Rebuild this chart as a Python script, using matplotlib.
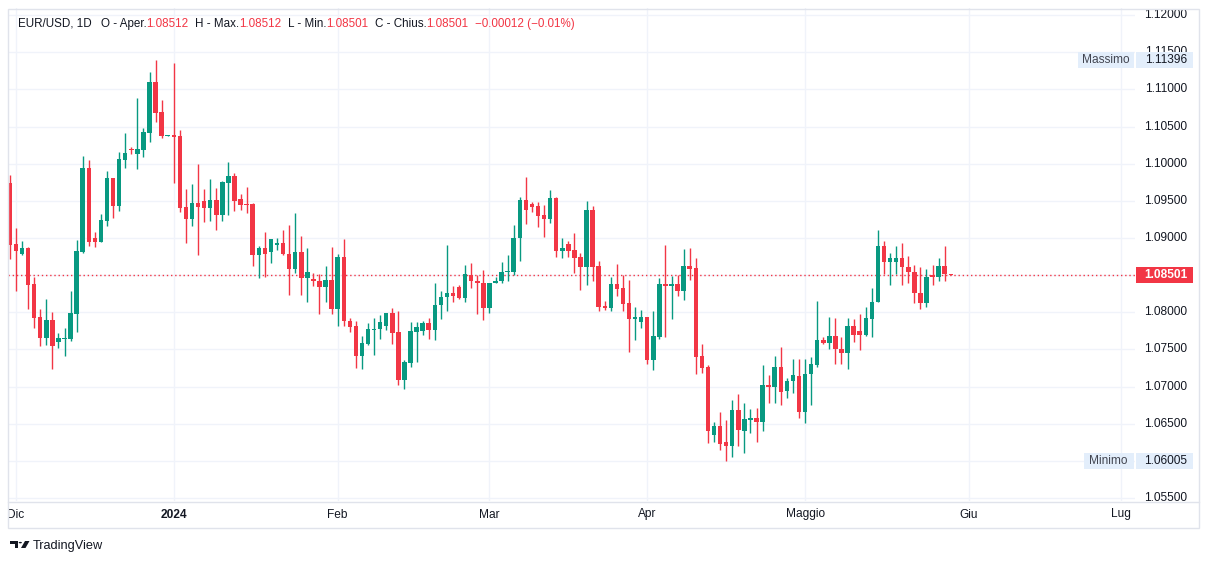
import matplotlib
matplotlib.use("Agg")
import matplotlib.pyplot as plt
import matplotlib.transforms as mtransforms
from matplotlib.patches import Rectangle, Polygon, Circle
import numpy as np

# ---------------- data ----------------
opens = [1.09740, 1.08919, 1.08785, 1.08866, 1.08381, 1.07937, 1.07659, 1.07897, 1.07606, 1.07646,
         1.07646, 1.07982, 1.08816, 1.09942, 1.09000, 1.08951, 1.09233, 1.09807, 1.09435, 1.10054,
         1.10188, 1.10135, 1.10188, 1.10417, 1.11099, 1.10695, 1.10377, 1.10381, 1.10372, 1.09417,
         1.09256, 1.09471, 1.09498, 1.09408, 1.09511, 1.09314, 1.09744, 1.09834, 1.09525, 1.09457,
         1.09457, 1.08776, 1.08867, 1.08805, 1.08912, 1.08934, 1.08787, 1.08577, 1.08814, 1.08457,
         1.08452, 1.08426, 1.08336, 1.08439, 1.08042, 1.08747, 1.07877, 1.07810, 1.07413, 1.07574,
         1.07757, 1.07770, 1.07815, 1.07984, 1.07730, 1.07092, 1.07320, 1.07734, 1.07748, 1.07855,
         1.07761, 1.08096, 1.08203, 1.08265, 1.08345, 1.08189, 1.08506, 1.08426, 1.08399, 1.08055,
         1.08390, 1.08417, 1.08537, 1.08546, 1.08995, 1.09507, 1.09458, 1.09427, 1.09306, 1.09256,
         1.09534, 1.08831, 1.08916, 1.08835, 1.08741, 1.08611, 1.09373, 1.08620, 1.08087, 1.08060,
         1.08378, 1.08329, 1.08123, 1.07912, 1.07872, 1.07935, 1.07361, 1.07670, 1.08378, 1.08360,
         1.08378, 1.08289, 1.08620, 1.08593, 1.07411, 1.07263, 1.06355, 1.06463, 1.06248, 1.06207,
         1.06688, 1.06409, 1.06557, 1.06580, 1.06530, 1.07024, 1.06993, 1.07267, 1.06935, 1.07069,
         1.07146, 1.06652, 1.07164, 1.07294, 1.07631, 1.07586, 1.07684, 1.07507, 1.07458, 1.07818,
         1.07750, 1.07701, 1.07916, 1.08132, 1.08897, 1.08672, 1.08681, 1.08735, 1.08613, 1.08546,
         1.08263, 1.08119, 1.08505, 1.08469, 1.08627, 1.08512]
highs = [1.09848, 1.09130, 1.08960, 1.08879, 1.08475, 1.08045, 1.08179, 1.08005, 1.07722, 1.07789,
         1.08287, 1.08973, 1.10103, 1.10049, 1.09081, 1.09323, 1.09901, 1.09807, 1.10157, 1.10413,
         1.10220, 1.10883, 1.10480, 1.11233, 1.11396, 1.10856, 1.10390, 1.11354, 1.10453, 1.09664,
         1.09726, 1.09996, 1.09664, 1.09794, 1.09673, 1.09767, 1.10022, 1.09874, 1.09596, 1.09691,
         1.09471, 1.08892, 1.09081, 1.08990, 1.09001, 1.09108, 1.09179, 1.09335, 1.09028, 1.08867,
         1.08533, 1.08519, 1.08626, 1.08881, 1.08782, 1.08988, 1.07917, 1.07877, 1.07676, 1.07855,
         1.07917, 1.07966, 1.07997, 1.08064, 1.08024, 1.07355, 1.07864, 1.07864, 1.07877, 1.07917,
         1.08399, 1.08292, 1.08907, 1.08350, 1.08372, 1.08640, 1.08666, 1.08506, 1.08573, 1.08399,
         1.08479, 1.08680, 1.08773, 1.09175, 1.09552, 1.09821, 1.09485, 1.09480, 1.09444, 1.09642,
         1.09552, 1.08996, 1.08961, 1.09064, 1.08804, 1.09494, 1.09427, 1.08692, 1.08154, 1.08477,
         1.08647, 1.08499, 1.08432, 1.08074, 1.08033, 1.07935, 1.08015, 1.08463, 1.08902, 1.08495,
         1.08499, 1.08849, 1.08862, 1.08728, 1.07572, 1.07290, 1.06526, 1.06661, 1.06544, 1.06822,
         1.06903, 1.06782, 1.06701, 1.06715, 1.07285, 1.07159, 1.07415, 1.07536, 1.07110, 1.07366,
         1.07366, 1.07366, 1.07393, 1.08147, 1.07671, 1.07940, 1.07927, 1.07665, 1.07921, 1.07916,
         1.07979, 1.08074, 1.08330, 1.09112, 1.08964, 1.08793, 1.08897, 1.08937, 1.08762, 1.08631,
         1.08613, 1.08586, 1.08640, 1.08735, 1.08897, 1.08512]
lows = [1.08718, 1.08292, 1.08771, 1.08045, 1.07794, 1.07552, 1.07565, 1.07242, 1.07525, 1.07417,
        1.07619, 1.07740, 1.08803, 1.08897, 1.08883, 1.08951, 1.09166, 1.09274, 1.09363, 1.09946,
        1.10130, 1.09933, 1.10094, 1.10296, 1.10565, 1.10350, 1.10372, 1.09744, 1.09350, 1.08937,
        1.09166, 1.08776, 1.09220, 1.09229, 1.09112, 1.09233, 1.09314, 1.09368, 1.09381, 1.09341,
        1.08628, 1.08457, 1.08479, 1.08666, 1.08845, 1.08770, 1.08229, 1.08524, 1.08229, 1.08145,
        1.08354, 1.07975, 1.08136, 1.07975, 1.07815, 1.07815, 1.07730, 1.07248, 1.07239, 1.07565,
        1.07427, 1.07641, 1.07761, 1.07574, 1.07025, 1.06972, 1.07266, 1.07333, 1.07694, 1.07641,
        1.07627, 1.07904, 1.08024, 1.08136, 1.08176, 1.08136, 1.08323, 1.07975, 1.07895, 1.07989,
        1.08390, 1.08390, 1.08417, 1.08506, 1.08692, 1.09194, 1.09350, 1.09149, 1.09014, 1.09198,
        1.08746, 1.08732, 1.08746, 1.08531, 1.08302, 1.08369, 1.08423, 1.08020, 1.08033, 1.08020,
        1.08221, 1.08020, 1.07469, 1.07630, 1.07791, 1.07308, 1.07227, 1.07644, 1.07670, 1.07912,
        1.08221, 1.08168, 1.08432, 1.07173, 1.07187, 1.06239, 1.06261, 1.06140, 1.06005, 1.06059,
        1.06207, 1.06113, 1.06382, 1.06248, 1.06396, 1.06773, 1.06786, 1.06746, 1.06840, 1.06908,
        1.06571, 1.06508, 1.06746, 1.07258, 1.07572, 1.07509, 1.07298, 1.07305, 1.07242, 1.07606,
        1.07498, 1.07678, 1.07674, 1.08132, 1.08519, 1.08362, 1.08519, 1.08362, 1.08398, 1.08119,
        1.08038, 1.08065, 1.08366, 1.08416, 1.08425, 1.08501]
closes = [1.08910, 1.08830, 1.08866, 1.08368, 1.07928, 1.07659, 1.07897, 1.07552, 1.07655, 1.07655,
          1.07991, 1.08825, 1.09942, 1.08951, 1.08951, 1.09242, 1.09807, 1.09435, 1.10063, 1.10143,
          1.10179, 1.10197, 1.10426, 1.11099, 1.10686, 1.10372, 1.10386, 1.10363, 1.09408, 1.09256,
          1.09471, 1.09417, 1.09408, 1.09511, 1.09314, 1.09753, 1.09834, 1.09502, 1.09448, 1.09448,
          1.08776, 1.08870, 1.08791, 1.08988, 1.08939, 1.08778, 1.08577, 1.08814, 1.08457, 1.08546,
          1.08417, 1.08336, 1.08439, 1.08042, 1.08747, 1.07881, 1.07801, 1.07413, 1.07583, 1.07770,
          1.07779, 1.07864, 1.07984, 1.07721, 1.07092, 1.07328, 1.07743, 1.07797, 1.07855, 1.07761,
          1.08104, 1.08212, 1.08265, 1.08216, 1.08189, 1.08519, 1.08417, 1.08390, 1.08055, 1.08399,
          1.08426, 1.08546, 1.08559, 1.09001, 1.09507, 1.09377, 1.09418, 1.09297, 1.09256, 1.09534,
          1.08831, 1.08871, 1.08822, 1.08732, 1.08611, 1.09373, 1.08611, 1.08074, 1.08060, 1.08378,
          1.08316, 1.08114, 1.07912, 1.07935, 1.07935, 1.07361, 1.07679, 1.08378, 1.08351, 1.08378,
          1.08289, 1.08620, 1.08580, 1.07402, 1.07254, 1.06409, 1.06463, 1.06234, 1.06207, 1.06688,
          1.06418, 1.06566, 1.06580, 1.06530, 1.07024, 1.06993, 1.07267, 1.06921, 1.07078, 1.07150,
          1.06652, 1.07173, 1.07307, 1.07631, 1.07586, 1.07684, 1.07500, 1.07458, 1.07818, 1.07701,
          1.07701, 1.07925, 1.08141, 1.08897, 1.08672, 1.08726, 1.08735, 1.08604, 1.08537, 1.08254,
          1.08119, 1.08478, 1.08469, 1.08627, 1.08513, 1.08501]

# first bar of each month (bar index) and its label
month_starts = [1, 27, 54, 79, 105, 131, 158, 183]
month_labels = ["Dic", "2024", "Feb", "Mar", "Apr", "Maggio", "Giu", "Lug"]
price_ticks = [1.055, 1.060, 1.065, 1.070, 1.075, 1.080, 1.085, 1.090, 1.095, 1.100,
               1.105, 1.110, 1.115, 1.120]
symbol = "EUR/USD, 1D"
ohlc_names = ["O - Aper.", "H - Max.", "L - Min.", "C - Chius."]

# ---------------- style ----------------
W, H = 1209, 564
GREEN = "#089981"
RED = "#f23645"
TXT = "#131722"
GRID = "#f0f3fa"
BORDER = "#e0e3eb"
LBLBOX = "#e3eefb"
FONT = ["Liberation Sans", "DejaVu Sans"]
plt.rcParams["font.family"] = FONT

fig = plt.figure(figsize=(W / 100, H / 100), dpi=100)
fig.patch.set_facecolor("white")


def fx(x):
    return x / W


def fy(y):
    return 1 - y / H


# plot area (pixels from top-left)
PL, PR, PT, PB = 8, 1135, 8, 501
ax = fig.add_axes([fx(PL), fy(PB), fx(PR - PL), fy(PT) - fy(PB)])
ax.set_facecolor("white")
for s in ax.spines.values():
    s.set_visible(False)
ax.set_xticks([])
ax.set_yticks([])

bar_px = 6.07
x0_px = 9.9
ax.set_xlim((PL - x0_px) / bar_px, (PR - x0_px) / bar_px)
ppu = 7430.0
ax.set_ylim(1.10 - (PB - 163.7) / ppu, 1.10 + (163.7 - PT) / ppu)

for p in price_ticks:
    ax.axhline(p, color=GRID, lw=1.0, zorder=0)
for m in month_starts:
    ax.axvline(m, color=GRID, lw=1.0, zorder=0)

o = np.array(opens)
h = np.array(highs)
l = np.array(lows)
c = np.array(closes)
idx = np.arange(len(o))
cols = np.where(c >= o, GREEN, RED)
ax.vlines(idx, l, h, colors=cols, lw=1.0, zorder=2)
min_h = 1.0 / ppu
body_bot = np.minimum(o, c)
body_h = np.maximum(np.abs(c - o), min_h)
ax.bar(idx, body_h, bottom=body_bot, width=0.74, color=cols, linewidth=0, zorder=3)

last = closes[-1]
ax.axhline(last, color=RED, lw=1.0, ls=(0, (1, 2)), zorder=1)

# ---------------- price scale ----------------
axp = fig.add_axes([fx(PR), fy(PB), fx(1197 - PR), fy(PT) - fy(PB)])
axp.set_axis_off()
axp.set_xlim(0, 1)
axp.set_ylim(ax.get_ylim())
for p in price_ticks:
    axp.text(0.5, p, f"{p:.5f}", ha="center", va="center", fontsize=8.6,
             color=TXT, clip_on=True, zorder=1)

hi_val = max(highs)
lo_val = min(lows)
box_h = 16 / ppu
btr = mtransforms.blended_transform_factory(ax.transAxes, ax.transData)
for val, name, lx0 in [(hi_val, "Massimo", 1078), (lo_val, "Minimo", 1084)]:
    axp.add_patch(Rectangle((1 / 62, val - box_h / 2), 57 / 62, box_h,
                            facecolor=LBLBOX, edgecolor="none", zorder=3))
    axp.text(0.5, val, f"{val:.5f}", ha="center", va="center", fontsize=8.6,
             color=TXT, zorder=4)
    xa = (lx0 - PL) / (PR - PL)
    wa = (1133.5 - lx0) / (PR - PL)
    ax.add_patch(Rectangle((xa, val - box_h / 2), wa, box_h, transform=btr,
                           facecolor=LBLBOX, edgecolor="none", zorder=6))
    ax.text(xa + wa / 2, val, name, ha="center", va="center", fontsize=8.6,
            color="#434651", transform=btr, zorder=7)

axp.add_patch(Rectangle((1 / 62, last - box_h / 2), 57 / 62, box_h,
                        facecolor=RED, edgecolor="none", zorder=5))
axp.text(0.5, last, f"{last:.5f}", ha="center", va="center", fontsize=8.6,
         color="white", fontweight="bold", zorder=6)

# ---------------- time scale ----------------
axt = fig.add_axes([fx(PL), fy(528), fx(1197 - PL), fy(PB) - fy(528)])
axt.set_axis_off()
axt.set_xlim((PL - x0_px) / bar_px, (1197 - x0_px) / bar_px)
axt.set_ylim(0, 1)
for m, lab in zip(month_starts, month_labels):
    axt.text(m, 0.5, lab, ha="center", va="center", fontsize=8.6, color=TXT,
             fontweight="bold" if lab.isdigit() else "normal", clip_on=True)

# ---------------- frame lines ----------------
fig.add_artist(Rectangle((fx(7.5), fy(528)), fx(1198.5 - 7.5), fy(8.5) - fy(528),
                         transform=fig.transFigure, facecolor="none",
                         edgecolor=BORDER, lw=1.0, zorder=10))
fig.add_artist(plt.Line2D([fx(7.5), fx(1198.5)], [fy(501.5), fy(501.5)],
                          transform=fig.transFigure, color=BORDER, lw=1.0, zorder=10))

# ---------------- legend header ----------------
chg = closes[-1] - closes[-2]
pct = chg / closes[-2] * 100


def fmt_signed(v, d):
    s = f"{abs(v):.{d}f}"
    return ("\u2212" if v < 0 else "+") + s


vals = [opens[-1], highs[-1], lows[-1], closes[-1]]
segments = [(symbol, TXT, 8.5)]
for name, v in zip(ohlc_names, vals):
    segments.append((name, TXT, 0.0))
    segments.append((f"{v:.5f}", RED, 6.5))
segments.append((f"{fmt_signed(chg, 5)} ({fmt_signed(pct, 2)}%)", RED, 0))

renderer = fig.canvas.get_renderer()
target_w = 574 - 18.4


def layout(fs, draw=False):
    xp = 18.4
    arts = []
    for txt, col, gap in segments:
        t = fig.text(fx(xp), fy(24), txt, ha="left", va="center", fontsize=fs,
                     color=col, zorder=12)
        w = t.get_window_extent(renderer).width
        arts.append(t)
        xp += w + gap
    total = xp - 18.4
    if not draw:
        for t in arts:
            t.remove()
    return total


fs = 8.8
for _ in range(4):
    tw = layout(fs)
    fs = fs * target_w / tw
layout(fs, draw=True)

# ---------------- TradingView logo ----------------
lg = "#131722"
fig.add_artist(Polygon([(fx(10), fy(541)), (fx(18), fy(541)), (fx(18), fy(548)),
                        (fx(15), fy(548)), (fx(15), fy(544)), (fx(10), fy(544))],
                       closed=True, transform=fig.transFigure, facecolor=lg, edgecolor="none"))
fig.add_artist(Circle((fx(20.3), fy(542.6)), 1.6 / W, transform=fig.transFigure,
                      facecolor=lg, edgecolor="none"))
fig.add_artist(Polygon([(fx(25), fy(541)), (fx(29.5), fy(541)), (fx(25.5), fy(548)),
                        (fx(21), fy(548))],
                       closed=True, transform=fig.transFigure, facecolor=lg, edgecolor="none"))
fig.text(fx(32.5), fy(545.5), "TradingView", ha="left", va="center", fontsize=9.2, color=TXT)

fig.savefig("out.png", dpi=100, facecolor="white")
